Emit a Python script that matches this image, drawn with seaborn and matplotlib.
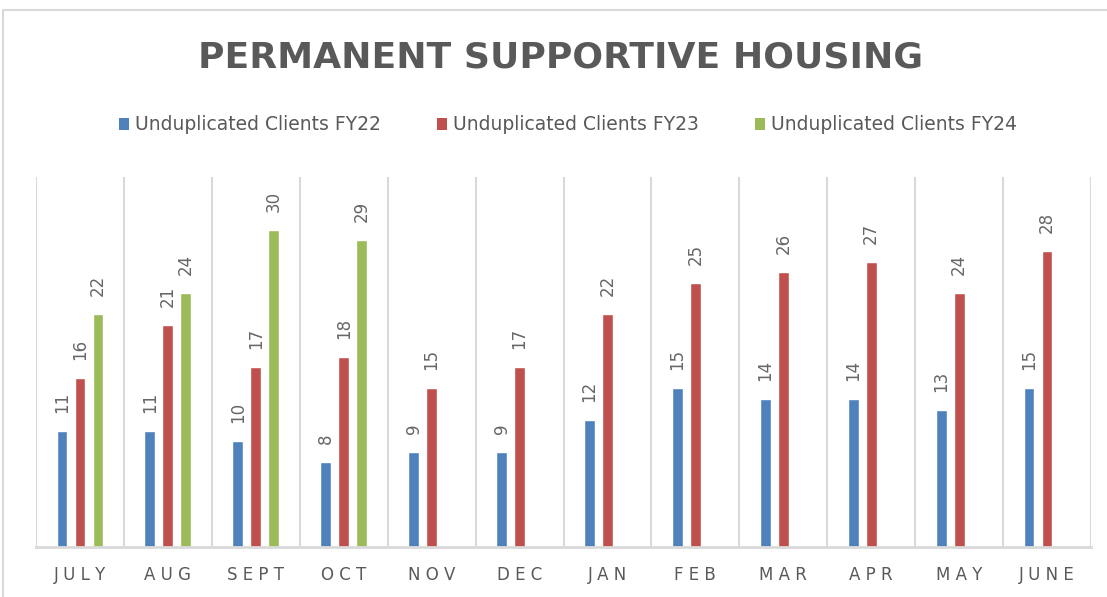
import pandas as pd
import numpy as np
import matplotlib.pyplot as plt
import seaborn as sns
from matplotlib.patches import Patch, Rectangle

# Chart data
months = ['JULY', 'AUG', 'SEPT', 'OCT', 'NOV', 'DEC', 'JAN', 'FEB', 'MAR', 'APR', 'MAY', 'JUNE']
series_names = ['Unduplicated Clients FY22', 'Unduplicated Clients FY23', 'Unduplicated Clients FY24']
fy22 = [11, 11, 10, 8, 9, 9, 12, 15, 14, 14, 13, 15]
fy23 = [16, 21, 17, 18, 15, 17, 22, 25, 26, 27, 24, 28]
fy24 = [22, 24, 30, 29, None, None, None, None, None, None, None, None]

colors = ['#4F81BD', '#C0504D', '#9BBB59']
text_gray = '#595959'
grid_gray = '#D9D9D9'

# Long-form table for seaborn
rows = []
for name, vals in zip(series_names, [fy22, fy23, fy24]):
    for m, v in zip(months, vals):
        if v is not None:
            rows.append({'month': m, 'clients': v, 'series': name})
df = pd.DataFrame(rows)

sns.set_style("white")
plt.rcParams['font.family'] = ['DejaVu Sans']

fig = plt.figure(figsize=(11.07, 5.97), dpi=100)
ax = fig.add_axes([36 / 1107, 1 - 547 / 597, (1091 - 36) / 1107, (547 - 177) / 597])

sns.barplot(data=df, x='month', y='clients', hue='series', order=months,
            hue_order=series_names, palette=colors, width=0.615, gap=0.4,
            saturation=1, errorbar=None, legend=False, ax=ax)

# Value labels, rotated like the original
for cont in ax.containers:
    ax.bar_label(cont, fmt='%g', rotation=90, padding=13, fontsize=12, color='#666666')

ax.set_ylim(0, 35)
ax.set_xlim(-0.5, len(months) - 0.5)
ax.set_yticks([])
ax.set_xlabel('')
ax.set_ylabel('')
ax.set_xticks(range(len(months)))
ax.set_xticklabels([' '.join(m) for m in months], fontsize=12, color=text_gray)
ax.tick_params(axis='x', length=0, pad=14)

# Vertical separators between categories
ax.set_xticks(np.arange(-0.5, len(months)), minor=True)
ax.tick_params(axis='x', which='minor', length=0)
ax.grid(axis='x', which='minor', color=grid_gray, linewidth=1.5)
ax.grid(axis='x', which='major', visible=False)
ax.set_axisbelow(True)

for side in ['top', 'right', 'left']:
    ax.spines[side].set_visible(False)
ax.spines['bottom'].set_color(grid_gray)
ax.spines['bottom'].set_linewidth(2)

# Title and legend
fig.text(561 / 1107, 1 - 58 / 597, 'PERMANENT SUPPORTIVE HOUSING', ha='center', va='center',
         fontsize=26, fontweight='bold', color=text_gray)

handles = [Patch(facecolor=c, edgecolor='none', label=n) for c, n in zip(colors, series_names)]
fig.legend(handles=handles, loc='center', bbox_to_anchor=(568 / 1107, 1 - 125 / 597), ncol=3,
           frameon=False, fontsize=13.5, labelcolor=text_gray, handlelength=0.55, handleheight=0.55,
           handletextpad=0.3, columnspacing=3.0)

# Outer chart border (top and left visible)
fig.patches.append(Rectangle((3 / 1107, -0.1), 1.2, 1.1 - 10 / 597, transform=fig.transFigure,
                             fill=False, edgecolor=grid_gray, linewidth=1.5))

fig.savefig('out.png', dpi=100)
